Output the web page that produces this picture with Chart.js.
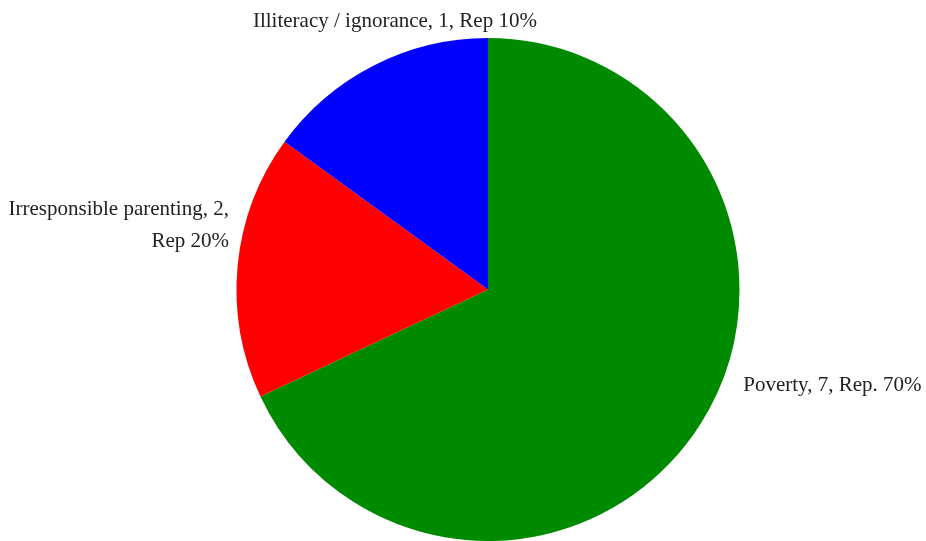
<!DOCTYPE html>
<html>
<head>
<meta charset="utf-8">
<script src="https://cdn.jsdelivr.net/npm/chart.js@4.4.1/dist/chart.umd.min.js"></script>
<style>
  html, body { margin: 0; padding: 0; background: #fff; }
  #wrap { width: 926px; height: 541px; }
</style>
</head>
<body>
<div id="wrap"><canvas id="pie"></canvas></div>
<script>
// slice sizes as drawn in the picture (the labels carry the reported numbers)
const categorias = ['Poverty', 'Irresponsible parenting', 'Illiteracy / ignorance'];
const valores = [68, 17, 15];
const textos = [
    ['Poverty, 7, Rep. 70%'],
    ['Irresponsible parenting, 2,', 'Rep 20%'],
    ['Illiteracy / ignorance, 1, Rep 10%']
];
const colores = ['#008a00', '#ff0000', '#0000ff'];

// where each label sits, relative to centre, in units of radius
const posTextos = [
    { dx: 1.015, dy: 0.38, align: 'left' },
    { dx: -1.03, dy: -0.32, align: 'right' },
    { dx: -0.37, dy: -1.065, align: 'center' }
];

const etiquetasPlugin = {
    id: 'etiquetas',
    afterDatasetsDraw(chart) {
        const ctx = chart.ctx;
        const arcs = chart.getDatasetMeta(0).data;
        if (!arcs.length) return;
        const cx = arcs[0].x, cy = arcs[0].y, r = arcs[0].outerRadius;
        ctx.save();
        ctx.font = '21px "Liberation Serif", "Times New Roman", serif';
        ctx.fillStyle = '#222';
        ctx.textBaseline = 'middle';
        textos.forEach((lineas, i) => {
            const p = posTextos[i];
            ctx.textAlign = p.align;
            lineas.forEach((t, j) => {
                ctx.fillText(t, cx + p.dx * r, cy + p.dy * r + j * 32);
            });
        });
        ctx.restore();
    }
};

new Chart(document.getElementById('pie').getContext('2d'), {
    type: 'pie',
    data: {
        labels: categorias,
        datasets: [{
            data: valores,
            backgroundColor: colores,
            borderWidth: 0
        }]
    },
    options: {
        responsive: true,
        maintainAspectRatio: false,
        devicePixelRatio: 1,
        animation: false,
        layout: { padding: { top: 38, bottom: 0, left: 50, right: 0 } },
        plugins: {
            legend: { display: false },
            tooltip: { enabled: false }
        }
    },
    plugins: [etiquetasPlugin]
});
</script>
</body>
</html>
